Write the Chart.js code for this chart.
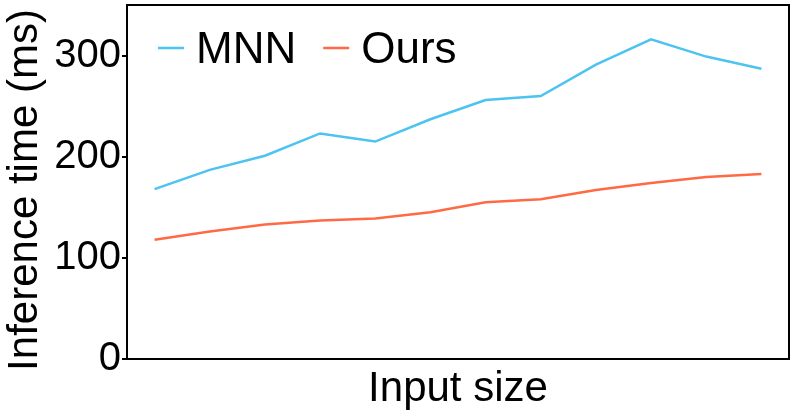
<!DOCTYPE html>
<html>
<head>
<meta charset="utf-8">
<script src="https://cdn.jsdelivr.net/npm/chart.js@4/dist/chart.umd.min.js"></script>
<style>
  html, body { margin: 0; padding: 0; background: #fff; }
  #wrap { width: 797px; height: 416px; }
</style>
</head>
<body>
<div id="wrap"><canvas id="c" width="797" height="416"></canvas></div>
<script>
const categories = ['1','2','3','4','5','6','7','8','9','10','11','12'];
const mnnValues  = [168, 187, 201, 223, 215, 237, 256, 260, 291, 316, 299, 287];
const oursValues = [118, 126, 133, 137, 139, 145, 155, 158, 167, 174, 180, 183];
const yTicks = [0, 100, 200, 300];
const seriesNames = ['MNN', 'Ours'];
const seriesColors = ['#4CC3F0', '#FF6A45'];
const xTitle = 'Input size';
const yTitle = 'Inference time (ms)';

const FONT = "'Liberation Sans', Arial, sans-serif";

const decorations = {
  id: 'decorations',
  afterDatasetsDraw(chart) {
    const ctx = chart.ctx;
    const a = chart.chartArea;
    ctx.save();
    ctx.font = '44px ' + FONT;
    ctx.textBaseline = 'alphabetic';
    ctx.textAlign = 'left';
    let x = a.left + 31;
    const yLine = a.top + 43;
    const yText = a.top + 58;
    chart.data.datasets.forEach(ds => {
      ctx.strokeStyle = ds.borderColor;
      ctx.lineWidth = 2.5;
      ctx.beginPath();
      ctx.moveTo(x, yLine);
      ctx.lineTo(x + 26, yLine);
      ctx.stroke();
      ctx.fillStyle = '#000';
      ctx.fillText(ds.label, x + 38, yText);
      x += 38 + ctx.measureText(ds.label).width + 27;
    });
    ctx.restore();
  },
  afterDraw(chart) {
    const ctx = chart.ctx;
    const a = chart.chartArea;
    ctx.save();
    ctx.strokeStyle = '#000';
    ctx.lineWidth = 2;
    ctx.strokeRect(a.left, a.top, a.right - a.left, a.bottom - a.top);
    // y-axis title (placed like the reference, slightly below the axis centre)
    const yScale = chart.scales.y;
    ctx.fillStyle = '#000';
    ctx.font = '42px ' + FONT;
    ctx.textAlign = 'center';
    ctx.textBaseline = 'alphabetic';
    ctx.translate(yScale.left + 37, (a.top + a.bottom) / 2 + 8);
    ctx.rotate(-Math.PI / 2);
    ctx.fillText(yScale.options.title.text, 0, 0);
    ctx.restore();
  }
};

new Chart(document.getElementById('c'), {
  type: 'line',
  data: {
    labels: categories,
    datasets: [
      { label: seriesNames[0], data: mnnValues, borderColor: seriesColors[0], backgroundColor: seriesColors[0],
        borderWidth: 2.5, pointRadius: 0, tension: 0, fill: false },
      { label: seriesNames[1], data: oursValues, borderColor: seriesColors[1], backgroundColor: seriesColors[1],
        borderWidth: 2.5, pointRadius: 0, tension: 0, fill: false }
    ]
  },
  options: {
    responsive: false,
    animation: false,
    devicePixelRatio: 1,
    layout: { padding: { top: 5, right: 8, left: 0, bottom: 0 } },
    plugins: { legend: { display: false }, tooltip: { enabled: false } },
    scales: {
      x: {
        type: 'category',
        offset: true,
        grid: { display: false, drawTicks: false },
        border: { display: true, color: '#000', width: 2 },
        ticks: { display: false },
        title: { display: true, text: xTitle, color: '#000',
                 font: { family: FONT, size: 42 }, padding: { top: 0, bottom: 1 } },
        afterFit(scale) { scale.height = 57; scale.paddingLeft = 0; scale.paddingRight = 0; }
      },
      y: {
        min: 0, max: 350,
        grid: { drawOnChartArea: false, drawTicks: true, tickLength: 5, color: '#000', lineWidth: 2 },
        border: { display: true, color: '#000', width: 2 },
        ticks: { color: '#000', font: { family: FONT, size: 40 }, padding: 1 },
        afterBuildTicks(scale) { scale.ticks = yTicks.map(v => ({ value: v })); },
        title: { display: false, text: yTitle, color: '#000',
                 font: { family: FONT, size: 42 } },
        afterFit(scale) { scale.width = 127; scale.paddingTop = 0; scale.paddingBottom = 0; }
      }
    }
  },
  plugins: [decorations]
});
</script>
</body>
</html>
